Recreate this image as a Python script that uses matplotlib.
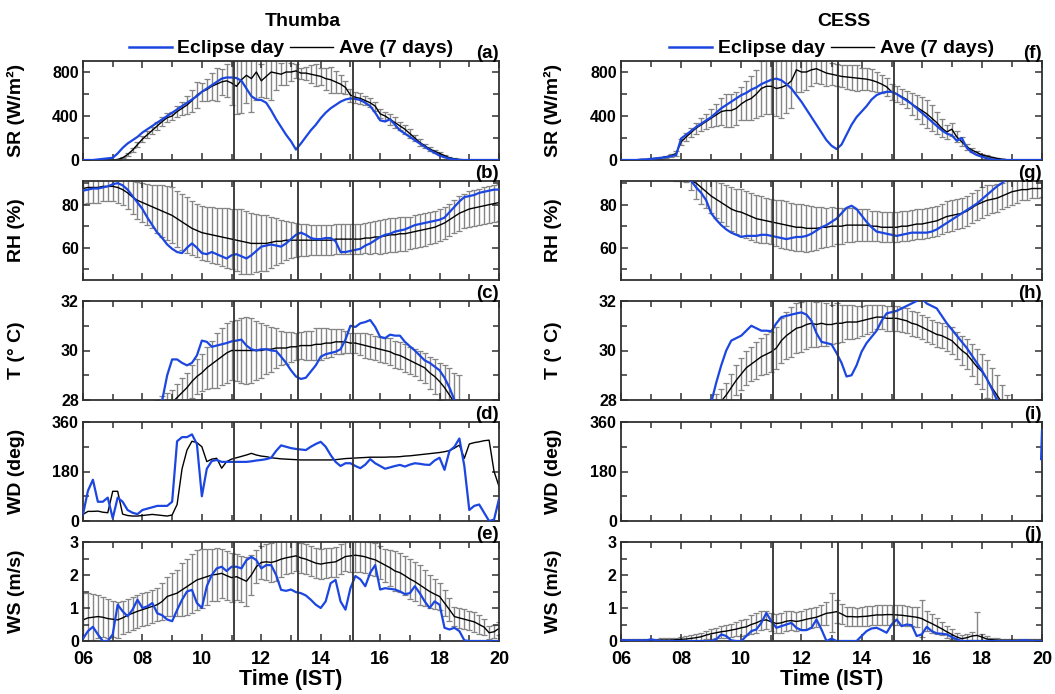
import numpy as np
import matplotlib
matplotlib.use('Agg')
import matplotlib.pyplot as plt
from matplotlib.ticker import MultipleLocator

plt.rcParams['font.family'] = ['Liberation Sans', 'DejaVu Sans']
plt.rcParams['font.weight'] = 'bold'

# tempo (IST), de 10 em 10 minutos, 06:00 ... 20:00
hora = np.linspace(6, 20, 85)

# ---------------- Thumba ----------------
thumba_sr_eclipse = [0, 0, 0, 5, 10, 15,
                     20, 60, 110, 150, 180, 210,
                     250, 280, 310, 340, 370, 400,
                     430, 460, 490, 520, 550, 580,
                     620, 650, 680, 710, 740, 750,
                     750, 745, 720, 650, 580, 550,
                     545, 520, 450, 370, 300, 230,
                     170, 95, 150, 210, 270, 320,
                     380, 430, 470, 500, 530, 550,
                     560, 555, 545, 520, 490, 430,
                     360, 350, 370, 320, 270, 240,
                     210, 180, 150, 120, 90, 65,
                     40, 25, 12, 5, 0, 0,
                     0, 0, 0, 0, 0, 0,
                     0]
thumba_sr_media = [0, 0, 0, 0, 0, 0,
                   0, 5, 20, 50, 90, 140,
                   190, 230, 270, 310, 350, 385,
                   400, 440, 470, 500, 540, 590,
                   620, 640, 670, 690, 710, 720,
                   700, 670, 730, 770, 740, 800,
                   720, 760, 800, 790, 780, 800,
                   800, 810, 790, 790, 780, 770,
                   760, 740, 730, 710, 690, 660,
                   590, 570, 560, 540, 520, 490,
                   420, 400, 370, 340, 310, 280,
                   240, 200, 160, 130, 100, 80,
                   60, 40, 20, 10, 5, 0,
                   0, 0, 0, 0, 0, 0,
                   0]
thumba_sr_erro = [0, 0, 0, 0, 0, 0,
                  0, 2, 5, 10, 15, 20,
                  25, 30, 30, 35, 40, 40,
                  40, 50, 60, 80, 100, 120,
                  80, 100, 120, 150, 120, 150,
                  200, 250, 300, 250, 300, 250,
                  150, 200, 250, 150, 100, 120,
                  80, 60, 50, 60, 80, 100,
                  80, 100, 120, 100, 80, 60,
                  60, 50, 50, 40, 40, 40,
                  40, 40, 50, 50, 40, 40,
                  40, 30, 30, 20, 20, 15,
                  10, 10, 5, 5, 0, 0,
                  0, 0, 0, 0, 0, 0,
                  0]

thumba_rh_eclipse = [86.5, 87, 87.5, 87.5, 88, 88.5,
                     89.5, 90, 89, 87, 84, 81,
                     78, 74, 70.5, 67, 64.5, 61.5,
                     59.5, 58, 57.5, 60, 62, 60,
                     57.5, 57, 58, 57, 56, 55,
                     56.5, 57, 56, 55, 56.5, 58.5,
                     60.5, 61, 61.5, 61, 60.5, 62,
                     64, 66, 67, 66, 64.5, 64,
                     64, 64.5, 64.5, 63, 58, 58,
                     58.5, 59, 59.5, 61, 62, 63.5,
                     65, 66, 66.5, 67.5, 68, 68.5,
                     69.5, 70.5, 71, 71.5, 72, 72.5,
                     73, 74, 76.5, 79, 81.5, 83.5,
                     84, 84.5, 85.5, 86, 86.5, 87,
                     87]
thumba_rh_media = [87.5, 88, 88, 88, 88.5, 88.5,
                   88.5, 88, 87, 85.5, 83.5, 82,
                   81, 80, 79, 78, 77, 76,
                   75, 73.5, 72, 70.5, 69, 68,
                   67, 66.5, 66, 65.5, 65, 64.5,
                   64, 63.5, 63, 62.5, 62, 62,
                   62, 62, 62.5, 63, 63, 63.5,
                   63.5, 63.5, 63.5, 63.5, 63.5, 63.5,
                   63.5, 63.5, 63.5, 64, 64, 64,
                   64, 64, 64, 64.5, 64.5, 65,
                   65, 65.5, 66, 66, 66.5, 66.5,
                   67, 67.5, 68, 68.5, 69, 69.5,
                   70.5, 71.5, 73, 74.5, 76, 77,
                   78, 78.5, 79, 79.5, 80, 80.5,
                   81]
thumba_rh_erro = [7, 7, 7, 7, 7, 7,
                  7, 7, 7, 7.5, 8, 8.5,
                  9, 9.5, 10, 11, 12, 12.5,
                  13, 13, 13, 13, 12.5, 12.5,
                  12.5, 12.5, 13, 13, 13.5, 14,
                  14, 14.5, 15, 14.5, 14, 13.5,
                  13, 13, 12, 11, 10, 9,
                  8.5, 8, 7.5, 7.5, 7, 7,
                  7, 7, 7, 7, 7, 7,
                  7, 7, 7, 7, 7.5, 7.5,
                  8, 8, 8, 8, 8, 8,
                  7.5, 7.5, 7.5, 7.5, 7.5, 7.5,
                  7.5, 7.5, 7.5, 7.5, 8, 8,
                  8.5, 8.5, 8.5, 8.5, 8.5, 8.5,
                  8.5]

thumba_t_eclipse = [26.5, 26.5, 26.5, 26.5, 26.5, 26.5,
                    26.6, 26.7, 26.8, 26.9, 27.0, 27.1,
                    27.2, 27.3, 27.5, 27.7, 28.0, 29.0,
                    29.64, 29.64, 29.5, 29.4, 29.5, 29.8,
                    30.4, 30.35, 30.15, 30.2, 30.25, 30.3,
                    30.37, 30.4, 30.44, 30.2, 30.05, 30.0,
                    30.05, 30.05, 30.0, 29.98, 29.75, 29.5,
                    29.2, 28.95, 28.85, 28.9, 29.15, 29.4,
                    29.75, 29.85, 29.9, 29.95, 30.05, 30.44,
                    31.0, 30.95, 31.1, 31.15, 31.23, 30.95,
                    30.55, 30.5, 30.64, 30.6, 30.6, 30.35,
                    30.17, 30.0, 29.8, 29.6, 29.5, 29.35,
                    29.2, 28.9, 28.5, 28.0, 27.6, 27.2,
                    26.9, 26.7, 26.6, 26.5, 26.4, 26.3,
                    26.2]
thumba_t_media = [26.5, 26.5, 26.5, 26.5, 26.5, 26.6,
                  26.7, 26.8, 26.9, 27.0, 27.1, 27.2,
                  27.3, 27.4, 27.5, 27.6, 27.7, 27.8,
                  27.9, 28.1, 28.3, 28.5, 28.75, 28.95,
                  29.1, 29.3, 29.45, 29.6, 29.75, 29.9,
                  30.0, 30.0, 30.0, 30.0, 30.0, 30.0,
                  30.0, 30.05, 30.05, 30.1, 30.1, 30.1,
                  30.15, 30.15, 30.2, 30.2, 30.2, 30.25,
                  30.25, 30.3, 30.3, 30.35, 30.35, 30.35,
                  30.3, 30.3, 30.25, 30.2, 30.15, 30.1,
                  30.05, 30.0, 29.95, 29.85, 29.8, 29.7,
                  29.6, 29.5, 29.4, 29.3, 29.1, 28.95,
                  28.75, 28.5, 28.2, 27.9, 27.6, 27.3,
                  27.0, 26.8, 26.6, 26.5, 26.4, 26.3,
                  26.2]
thumba_t_erro = [0.3, 0.3, 0.3, 0.3, 0.3, 0.3,
                 0.3, 0.3, 0.3, 0.3, 0.3, 0.3,
                 0.3, 0.3, 0.35, 0.4, 0.45, 0.5,
                 0.5, 0.55, 0.6, 0.6, 0.65, 0.7,
                 0.75, 0.85, 0.95, 1.1, 1.15, 1.2,
                 1.2, 1.25, 1.3, 1.35, 1.3, 1.2,
                 1.1, 1.0, 0.9, 0.8, 0.7, 0.65,
                 0.6, 0.55, 0.55, 0.6, 0.6, 0.65,
                 0.65, 0.6, 0.55, 0.5, 0.5, 0.45,
                 0.4, 0.4, 0.45, 0.5, 0.5, 0.5,
                 0.5, 0.5, 0.55, 0.55, 0.55, 0.55,
                 0.55, 0.55, 0.6, 0.6, 0.65, 0.7,
                 0.75, 0.9, 1.1, 1.2, 1.4, 0.3,
                 0.3, 0.3, 0.3, 0.3, 0.3, 0.3,
                 0.3]

thumba_wd_eclipse = [24, 110, 150, 70, 70, 85,
                     10, 85, 70, 40, 30, 25,
                     40, 45, 50, 55, 55, 55,
                     70, 290, 305, 305, 315, 280,
                     90, 190, 218, 222, 215, 215,
                     215, 215, 215, 215, 217, 220,
                     222, 225, 230, 255, 275, 270,
                     265, 262, 260, 258, 270, 280,
                     288, 270, 240, 215, 200, 210,
                     210, 200, 192, 205, 225, 210,
                     200, 190, 195, 200, 204, 198,
                     205, 210, 208, 205, 204, 220,
                     230, 186, 255, 270, 300, 200,
                     40, 55, 60, 30, 0, 5,
                     80]
thumba_wd_media = [24, 35, 35, 36, 32, 30,
                   108, 108, 25, 20, 18, 18,
                   20, 22, 24, 22, 20, 18,
                   22, 60, 190, 258, 290, 285,
                   270, 216, 225, 228, 192, 216,
                   225, 230, 235, 240, 246, 240,
                   236, 234, 230, 228, 226, 225,
                   224, 223, 222, 222, 222, 222,
                   222, 222, 222, 223, 225, 227,
                   228, 229, 230, 231, 232, 232,
                   232, 232, 233, 233, 234, 236,
                   237, 239, 241, 243, 245, 247,
                   249, 252, 256, 265, 276, 228,
                   280, 285, 288, 292, 294, 180,
                   126]

thumba_ws_eclipse = [0.07, 0.3, 0.43, 0.2, 0.0, 0.0,
                     0.2, 1.1, 0.9, 0.75, 0.95, 1.25,
                     1.0, 1.05, 1.15, 0.84, 0.78, 0.65,
                     0.6, 0.94, 1.25, 1.5, 1.55, 1.15,
                     1.0, 1.66, 2.0, 2.2, 2.25, 2.12,
                     2.25, 2.25, 2.2, 2.45, 2.55, 2.45,
                     2.2, 2.3, 2.3, 2.0, 1.55, 1.52,
                     1.56, 1.48, 1.45, 1.38, 1.25, 1.1,
                     1.0, 1.2, 1.75, 1.85, 1.2, 0.95,
                     1.6, 1.97, 1.87, 1.66, 2.07, 2.3,
                     1.56, 1.6, 1.58, 1.56, 1.5, 1.42,
                     1.45, 1.66, 1.45, 1.2, 1.0, 1.2,
                     1.1, 0.4, 0.35, 0.4, 0.3, 0.02,
                     0.0, 0.0, 0.0, 0.0, 0.0, 0.0,
                     0.0]
thumba_ws_media = [0.64, 0.7, 0.72, 0.74, 0.72, 0.68,
                   0.66, 0.64, 0.7, 0.78, 0.84, 0.9,
                   0.95, 1.0, 1.05, 1.1, 1.2, 1.35,
                   1.4, 1.45, 1.55, 1.65, 1.75, 1.85,
                   1.9, 1.95, 2.0, 2.02, 2.05, 1.98,
                   1.92, 1.95, 1.88, 1.81, 2.0, 2.25,
                   2.38, 2.4, 2.38, 2.42, 2.48, 2.52,
                   2.55, 2.58, 2.52, 2.48, 2.42, 2.36,
                   2.33, 2.36, 2.38, 2.4, 2.48, 2.56,
                   2.58, 2.6, 2.58, 2.55, 2.5, 2.46,
                   2.38, 2.3, 2.22, 2.12, 2.07, 1.98,
                   1.88, 1.8, 1.7, 1.6, 1.5, 1.42,
                   1.35, 1.15, 0.95, 0.74, 0.7, 0.66,
                   0.62, 0.58, 0.5, 0.42, 0.25, 0.28,
                   0.38]
thumba_ws_erro = [0.8, 0.75, 0.7, 0.65, 0.6, 0.6,
                  0.55, 0.55, 0.5, 0.5, 0.5, 0.5,
                  0.5, 0.5, 0.5, 0.5, 0.55, 0.6,
                  0.65, 0.7, 0.8, 0.85, 0.9, 0.9,
                  0.9, 0.85, 0.8, 0.8, 0.75, 0.75,
                  0.75, 0.7, 0.7, 0.75, 0.6, 0.5,
                  0.5, 0.55, 0.6, 0.6, 0.55, 0.5,
                  0.5, 0.45, 0.45, 0.45, 0.45, 0.45,
                  0.45, 0.45, 0.45, 0.45, 0.45, 0.45,
                  0.5, 0.5, 0.5, 0.5, 0.5, 0.5,
                  0.5, 0.5, 0.55, 0.6, 0.6, 0.6,
                  0.6, 0.6, 0.6, 0.55, 0.5, 0.45,
                  0.4, 0.4, 0.35, 0.3, 0.3, 0.3,
                  0.3, 0.3, 0.3, 0.25, 0.2, 0.2,
                  0.2]

# ---------------- CESS ----------------
cess_sr_eclipse = [0, 0, 0, 0, 3, 5,
                   10, 15, 20, 25, 35, 45,
                   196, 230, 265, 300, 330, 360,
                   390, 430, 470, 500, 530, 560,
                   590, 610, 640, 660, 690, 710,
                   730, 740, 725, 690, 650, 590,
                   530, 460, 390, 320, 250, 180,
                   130, 100, 140, 230, 320, 390,
                   440, 490, 550, 590, 610, 620,
                   620, 600, 570, 540, 510, 470,
                   430, 390, 350, 310, 270, 240,
                   225, 175, 200, 110, 70, 45,
                   30, 15, 5, 0, 0, 0,
                   0, 0, 0, 0, 0, 0,
                   0]
cess_sr_media = [0, 0, 0, 0, 5, 5,
                 10, 15, 20, 30, 40, 60,
                 165, 210, 250, 290, 320, 350,
                 380, 410, 440, 450, 450, 470,
                 510, 540, 560, 600, 650, 670,
                 670, 650, 660, 680, 720, 820,
                 800, 800, 820, 830, 810, 790,
                 780, 770, 760, 755, 750, 745,
                 740, 735, 725, 710, 690, 665,
                 620, 600, 575, 550, 510, 480,
                 450, 420, 380, 340, 290, 255,
                 280, 210, 165, 120, 90, 70,
                 45, 35, 25, 15, 8, 3,
                 0, 0, 0, 0, 0, 0,
                 0]
cess_sr_erro = [0, 0, 0, 0, 2, 2,
                5, 5, 10, 10, 15, 20,
                30, 40, 40, 50, 60, 70,
                80, 100, 120, 150, 150, 150,
                150, 180, 200, 220, 250, 250,
                250, 250, 280, 250, 250, 200,
                180, 160, 150, 130, 120, 120,
                100, 100, 100, 110, 110, 120,
                100, 100, 100, 90, 80, 80,
                70, 70, 70, 80, 100, 110,
                120, 130, 120, 100, 80, 60,
                60, 50, 40, 30, 20, 15,
                10, 10, 5, 5, 0, 0,
                0, 0, 0, 0, 0, 0,
                0]

cess_rh_eclipse = [99, 99, 99, 99, 99, 99,
                   98, 98, 97, 97, 96, 95,
                   94, 93, 91, 88, 85.5, 82,
                   76, 73, 70.5, 68.5, 67, 66,
                   65, 65.5, 65.5, 65.5, 66, 66,
                   65.5, 65, 64.5, 64, 64.5, 65,
                   65, 65.5, 66.5, 68, 69.5, 70.5,
                   72, 73.5, 76, 78.5, 79.5, 78,
                   75, 72, 69.5, 67.5, 67, 66.5,
                   66, 65.5, 66, 66.5, 67, 67,
                   67, 67, 67.5, 68.5, 70, 71.5,
                   73, 74.5, 76, 77.5, 79, 80.5,
                   82.5, 84.5, 86.5, 88.5, 90, 92,
                   93, 94, 94, 95, 95, 95,
                   95]
cess_rh_media = [98, 98, 98, 98, 98, 97,
                 97, 96.5, 96, 95.5, 95, 94,
                 93, 92, 91, 90, 88, 86,
                 84, 82.5, 81, 79.5, 78, 77,
                 76.5, 75.5, 74.5, 73.5, 73, 72.5,
                 72, 71.5, 71, 70.5, 70, 69.5,
                 69.5, 69, 69, 69, 69.5, 69.5,
                 70, 70, 70, 70.5, 70.5, 70.5,
                 70.5, 70.5, 70, 70, 69.5, 69.5,
                 69.5, 69.5, 70, 70, 70.5, 71,
                 71, 71.5, 72, 72.5, 73.5, 74.5,
                 75, 75.5, 76, 77, 78.5, 80,
                 81, 82, 82.5, 83, 84, 85,
                 86, 86.5, 87, 87, 87.5, 87.5,
                 87.5]
cess_rh_erro = [5, 5, 5, 5, 5, 5,
                5, 5, 4, 4, 3, 3,
                2, 1.5, 4, 7.5, 7.5, 7.5,
                8, 8.5, 9, 9.5, 10, 10.5,
                11, 11, 11, 11, 11, 10.5,
                10.5, 10.5, 11, 11, 11, 11,
                11, 11, 10.5, 10, 9.5, 9,
                9, 8.5, 8.5, 8, 8, 7.5,
                7.5, 7.5, 7, 7, 7, 7,
                7, 7, 7, 7, 7, 7,
                7, 7, 7, 7, 7, 7,
                7, 7, 7, 7, 7, 7,
                7, 7, 6.5, 6.5, 6, 6,
                6, 5.5, 5, 5, 4.5, 4.5,
                4]

cess_t_eclipse = [26, 26, 26, 26, 26, 26,
                  26.2, 26.3, 26.4, 26.5, 26.6, 26.7,
                  26.8, 26.9, 27.0, 27.2, 27.4, 27.7,
                  27.9, 28.7, 29.4, 30.0, 30.4, 30.5,
                  30.6, 30.8, 31.0, 30.9, 30.8, 30.8,
                  30.78, 31.1, 31.35, 31.4, 31.45, 31.5,
                  31.54, 31.45, 31.2, 30.7, 30.35, 30.3,
                  30.25, 29.9, 29.5, 28.95, 29.0, 29.4,
                  29.95, 30.3, 30.55, 30.8, 31.2, 31.5,
                  31.55, 31.6, 31.7, 31.8, 31.9, 32.0,
                  32.1, 31.9, 31.8, 31.7, 31.4, 31.1,
                  30.85, 30.6, 30.35, 30.1, 29.8, 29.5,
                  29.2, 28.85, 28.45, 28.0, 27.6, 27.3,
                  27.1, 27.0, 26.9, 26.8, 26.7, 26.6,
                  26.5]
cess_t_media = [26.0, 26.0, 26.0, 26.0, 26.0, 26.0,
                26.2, 26.3, 26.4, 26.5, 26.6, 26.7,
                26.8, 26.9, 27.0, 27.1, 27.3, 27.5,
                27.6, 27.75, 27.95, 28.2, 28.5, 28.8,
                29.05, 29.3, 29.45, 29.6, 29.75, 29.85,
                29.95, 30.1, 30.4, 30.6, 30.75, 30.9,
                30.95, 31.05, 31.1, 31.05, 31.1, 31.05,
                31.05, 31.1, 31.1, 31.15, 31.15, 31.15,
                31.2, 31.25, 31.3, 31.35, 31.35, 31.3,
                31.3, 31.3, 31.25, 31.2, 31.1, 31.05,
                30.95, 30.85, 30.75, 30.65, 30.6, 30.5,
                30.4, 30.2, 30.0, 29.85, 29.6, 29.35,
                29.15, 28.85, 28.5, 28.2, 27.9, 27.6,
                27.4, 27.2, 27.0, 26.9, 26.8, 26.7,
                26.6]
cess_t_erro = [0.4, 0.4, 0.4, 0.4, 0.4, 0.4,
               0.4, 0.4, 0.4, 0.4, 0.4, 0.4,
               0.4, 0.4, 0.4, 0.4, 0.4, 0.4,
               0.45, 0.5, 0.5, 0.5, 0.55, 0.6,
               0.65, 0.7, 0.7, 0.75, 0.75, 0.8,
               0.8, 0.85, 0.9, 0.95, 1.0, 1.0,
               1.0, 1.0, 0.95, 0.9, 0.9, 0.85,
               0.8, 0.8, 0.75, 0.7, 0.7, 0.65,
               0.6, 0.6, 0.55, 0.5, 0.5, 0.5,
               0.5, 0.5, 0.5, 0.5, 0.5, 0.5,
               0.5, 0.5, 0.5, 0.5, 0.5, 0.5,
               0.55, 0.55, 0.6, 0.6, 0.65, 0.7,
               0.7, 0.75, 0.8, 0.8, 0.7, 0.6,
               0.5, 0.5, 0.5, 0.5, 0.5, 0.5,
               0.5]

# CESS WD: so aparece um traco azul no fim do dia
cess_wd_hora = [19.97, 20.0]
cess_wd_eclipse = [225, 330]

cess_ws_eclipse = [0.03, 0.02, 0.02, 0.02, 0.02, 0.02,
                   0.05, 0.02, 0.0, 0.0, 0.0, 0.0,
                   0.0, 0.0, 0.0, 0.0, 0.0, 0.0,
                   0.0, 0.05, 0.2, 0.15, 0.02, 0.0,
                   0.0, 0.15, 0.3, 0.35, 0.55, 0.85,
                   0.6, 0.4, 0.45, 0.5, 0.55, 0.4,
                   0.33, 0.33, 0.4, 0.65, 0.35, 0.0,
                   0.07, 0.0, 0.0, 0.0, 0.0, 0.0,
                   0.15, 0.3, 0.38, 0.4, 0.33, 0.25,
                   0.5, 0.65, 0.45, 0.5, 0.48, 0.15,
                   0.2, 0.43, 0.3, 0.23, 0.22, 0.2,
                   0.12, 0.05, 0.0, 0.0, 0.0, 0.0,
                   0.0, 0.0, 0.0, 0.0, 0.0, 0.0,
                   0.0, 0.0, 0.02, 0.02, 0.0, 0.0,
                   0.0]
cess_ws_media = [0.02, 0.02, 0.02, 0.02, 0.02, 0.02,
                 0.02, 0.02, 0.03, 0.03, 0.03, 0.04,
                 0.05, 0.06, 0.08, 0.1, 0.13, 0.18,
                 0.22, 0.25, 0.28, 0.3, 0.33, 0.36,
                 0.4, 0.43, 0.5, 0.55, 0.62, 0.64,
                 0.58, 0.53, 0.55, 0.6, 0.62, 0.59,
                 0.62, 0.66, 0.69, 0.72, 0.78, 0.84,
                 0.86, 0.89, 0.82, 0.74, 0.74, 0.73,
                 0.74, 0.75, 0.77, 0.79, 0.79, 0.8,
                 0.8, 0.79, 0.78, 0.76, 0.74, 0.72,
                 0.68, 0.6, 0.53, 0.45, 0.37, 0.28,
                 0.2, 0.12, 0.07, 0.1, 0.15, 0.17,
                 0.12, 0.06, 0.04, 0.03, 0.02, 0.02,
                 0.02, 0.02, 0.02, 0.02, 0.02, 0.02,
                 0.02]
cess_ws_erro = [0.05, 0.05, 0.05, 0.05, 0.05, 0.05,
                0.05, 0.05, 0.05, 0.05, 0.05, 0.05,
                0.08, 0.08, 0.1, 0.1, 0.12, 0.12,
                0.15, 0.15, 0.18, 0.2, 0.2, 0.22,
                0.25, 0.25, 0.28, 0.3, 0.3, 0.28,
                0.28, 0.3, 0.3, 0.3, 0.3, 0.3,
                0.3, 0.3, 0.3, 0.3, 0.3, 0.35,
                0.6, 0.35, 0.3, 0.28, 0.28, 0.28,
                0.28, 0.3, 0.3, 0.3, 0.3, 0.3,
                0.3, 0.3, 0.3, 0.3, 0.3, 0.3,
                0.55, 0.3, 0.28, 0.25, 0.2, 0.18,
                0.15, 0.12, 0.1, 0.1, 0.12, 0.7,
                0.1, 0.08, 0.05, 0.05, 0.05, 0.05,
                0.05, 0.05, 0.05, 0.05, 0.05, 0.05,
                0.05]

# inicio, maximo e fim do eclipse
eclipse_linhas = [11.07, 13.22, 15.07]

AZUL = '#1c46e0'
CINZA = '#858585'
ESCURO = '#303030'


def painel(ax, ylim, yticks, ymenor, ylabel, letra,
           media=None, erro=None, eclipse=None, linhas=True,
           base=False, hora_azul=None):
    if media is not None:
        if erro is not None:
            ax.errorbar(hora, media, yerr=erro, fmt='none', ecolor=CINZA,
                        elinewidth=1.0, capsize=2.4, capthick=0.9, zorder=1)
        ax.plot(hora, media, color='black', lw=1.0, zorder=2)
    if eclipse is not None:
        xs = hora if hora_azul is None else hora_azul
        ax.plot(xs, eclipse, color=AZUL, lw=1.6, zorder=3)
    if linhas:
        for x in eclipse_linhas:
            ax.axvline(x, color=ESCURO, lw=1.3, zorder=4)

    ax.set_xlim(6, 20)
    ax.set_ylim(*ylim)
    ax.set_yticks(yticks)
    ax.yaxis.set_minor_locator(MultipleLocator(ymenor))
    ax.set_xticks(range(6, 21, 2))
    ax.xaxis.set_minor_locator(MultipleLocator(1))
    ax.tick_params(which='both', direction='in', top=True, right=True,
                   color=ESCURO, width=1.1)
    ax.tick_params(which='major', length=5)
    ax.tick_params(which='minor', length=4)
    ax.tick_params(axis='y', labelsize=11.5, pad=3)
    ax.tick_params(axis='x', labelsize=13, pad=7)
    for s in ax.spines.values():
        s.set_color(ESCURO)
        s.set_linewidth(1.3)
    ax.set_ylabel(ylabel, fontsize=14, fontweight='bold')
    ax.yaxis.set_label_coords(-0.14, 0.5)
    ax.text(1.0, 0.985, letra, transform=ax.transAxes, ha='right', va='bottom',
            fontsize=13.5, fontweight='bold')
    if base:
        ax.set_xticklabels([f'{h:02d}' for h in range(6, 21, 2)])
        ax.set_xlabel('Time (IST)', fontsize=15.5, fontweight='bold', labelpad=1)
    else:
        ax.set_xticklabels([])


fig = plt.figure(figsize=(10.55, 6.94), dpi=100)
W, H = 1055, 694
topos = [61, 181, 301, 422, 542]
alt = 99
colunas = [(83, 416), (621, 421)]


def eixo(col, lin):
    x0, w = colunas[col]
    return fig.add_axes([x0 / W, 1 - (topos[lin] + alt) / H, w / W, alt / H])


# Thumba
a = eixo(0, 0)
painel(a, (0, 900), [0, 400, 800], 200, 'SR (W/m²)', '(a)',
       thumba_sr_media, thumba_sr_erro, thumba_sr_eclipse)
b = eixo(0, 1)
painel(b, (45, 91), [60, 80], 10, 'RH (%)', '(b)',
       thumba_rh_media, thumba_rh_erro, thumba_rh_eclipse)
c = eixo(0, 2)
painel(c, (28, 32), [28, 30, 32], 1, 'T (° C)', '(c)',
       thumba_t_media, thumba_t_erro, thumba_t_eclipse)
d = eixo(0, 3)
painel(d, (0, 360), [0, 180, 360], 90, 'WD (deg)', '(d)',
       thumba_wd_media, None, thumba_wd_eclipse)
e = eixo(0, 4)
painel(e, (0, 3), [0, 1, 2, 3], 0.5, 'WS (m/s)', '(e)',
       thumba_ws_media, thumba_ws_erro, thumba_ws_eclipse, base=True)

# CESS
f = eixo(1, 0)
painel(f, (0, 900), [0, 400, 800], 200, 'SR (W/m²)', '(f)',
       cess_sr_media, cess_sr_erro, cess_sr_eclipse)
g = eixo(1, 1)
painel(g, (45, 91), [60, 80], 10, 'RH (%)', '(g)',
       cess_rh_media, cess_rh_erro, cess_rh_eclipse)
h = eixo(1, 2)
painel(h, (28, 32), [28, 30, 32], 1, 'T (° C)', '(h)',
       cess_t_media, cess_t_erro, cess_t_eclipse)
i = eixo(1, 3)
painel(i, (0, 360), [0, 180, 360], 90, 'WD (deg)', '(i)',
       None, None, cess_wd_eclipse, linhas=False, hora_azul=cess_wd_hora)
j = eixo(1, 4)
painel(j, (0, 3), [0, 1, 2, 3], 0.5, 'WS (m/s)', '(j)',
       cess_ws_media, cess_ws_erro, cess_ws_eclipse, base=True)

for ax in (a, f):
    h1, = ax.plot([], [], color=AZUL, lw=1.8)
    h2, = ax.plot([], [], color='black', lw=1.0)
    ax.legend([h1, h2], ['Eclipse day', 'Ave (7 days)'], loc='center',
              bbox_to_anchor=(0.5, 1.125), ncol=2, frameon=False,
              fontsize=14, handlelength=2.2, handletextpad=0.3,
              columnspacing=0.3, borderpad=0, borderaxespad=0)

fig.text(303 / W, 1 - 22 / H, 'Thumba', ha='center', va='center',
         fontsize=14, fontweight='bold')
fig.text(844 / W, 1 - 22 / H, 'CESS', ha='center', va='center',
         fontsize=14, fontweight='bold')

fig.savefig('out.png', dpi=100)
